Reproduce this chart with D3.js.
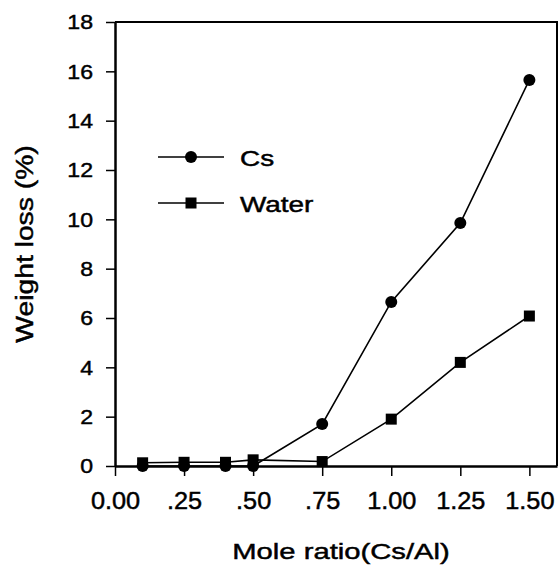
<!DOCTYPE html>
<html>
<head>
<meta charset="utf-8">
<script src="https://cdn.jsdelivr.net/npm/d3@7"></script>
<style>
  html, body { margin: 0; padding: 0; background: #fff; }
  svg { display: block; }
  text { font-family: "Liberation Sans", Arial, sans-serif; fill: #000; stroke: #000; stroke-width: 0.45px; }
</style>
</head>
<body>
<svg id="chart" width="560" height="576"></svg>
<script>
// dane odčítané z obrázka
const moleRatio = [0.1, 0.25, 0.4, 0.5, 0.75, 1.0, 1.25, 1.5];
const csLoss = [0.0, 0.0, 0.0, 0.0, 1.7, 6.65, 9.85, 15.65];
const waterLoss = [0.13, 0.15, 0.15, 0.25, 0.18, 1.9, 4.2, 6.08];

const xTicks = [0, 0.25, 0.5, 0.75, 1.0, 1.25, 1.5];
const xTickLabels = ["0.00", ".25", ".50", ".75", "1.00", "1.25", "1.50"];
const yTicks = [0, 2, 4, 6, 8, 10, 12, 14, 16, 18];

const seriesNames = ["Cs", "Water"];

const svg = d3.select("#chart");

const x = d3.scaleLinear().domain([0, 1.6]).range([115, 557]);
const y = d3.scaleLinear().domain([0, 18]).range([466, 22]);

// text v obrázku je širší než Arial, roztiahneme ho cez scale okolo jeho x
function widen(sel, k) {
  sel.each(function () {
    const t = d3.select(this);
    const x0 = +t.attr("x") || 0;
    t.attr("x", x0 / k).attr("transform", `scale(${k},1)`);
  });
}

// rám grafu (hore a vpravo)
svg.append("path")
  .attr("d", `M${x(0)},${y(18)}H${x(1.6)}V${y(0)}`)
  .attr("fill", "none")
  .attr("stroke", "#000")
  .attr("stroke-width", 2);

const gx = svg.append("g")
  .attr("transform", `translate(0,${y(0)})`)
  .call(d3.axisBottom(x)
    .tickValues(xTicks)
    .tickFormat((d, i) => xTickLabels[i])
    .tickSize(10)
    .tickPadding(17)
    .tickSizeOuter(0));

const gy = svg.append("g")
  .attr("transform", `translate(${x(0)},0)`)
  .call(d3.axisLeft(y)
    .tickValues(yTicks)
    .tickSize(9)
    .tickPadding(13)
    .tickSizeOuter(0));

[gx, gy].forEach(g => {
  g.attr("font-family", null);
  g.select(".domain").attr("stroke-width", 2.5);
  g.selectAll(".tick line").attr("stroke-width", 1.5);
});
gx.selectAll("text").attr("font-size", 23);
gy.selectAll("text").attr("font-size", 21);
widen(gx.selectAll("text"), 1.1);
widen(gy.selectAll("text"), 1.1);

// popisy osí
svg.append("g")
  .attr("transform", "translate(341,559)")
  .append("text")
  .attr("text-anchor", "middle")
  .attr("font-size", 22.5)
  .attr("transform", "scale(1.3,1)")
  .text("Mole ratio(Cs/Al)");

svg.append("g")
  .attr("transform", "translate(33,244) rotate(-90)")
  .append("text")
  .attr("text-anchor", "middle")
  .attr("font-size", 23)
  .attr("transform", "scale(1.23,1)")
  .text("Weight loss (%)");

const line = d3.line()
  .x(d => x(d[0]))
  .y(d => y(d[1]));

const csData = moleRatio.map((m, i) => [m, csLoss[i]]);
const waterData = moleRatio.map((m, i) => [m, waterLoss[i]]);

[csData, waterData].forEach(data => {
  svg.append("path")
    .datum(data)
    .attr("fill", "none")
    .attr("stroke", "#000")
    .attr("stroke-width", 1.6)
    .attr("d", line);
});

svg.append("g")
  .selectAll("rect")
  .data(waterData)
  .join("rect")
  .attr("x", d => x(d[0]) - 5.5)
  .attr("y", d => y(d[1]) - 5.5)
  .attr("width", 11)
  .attr("height", 11)
  .attr("fill", "#000");

svg.append("g")
  .selectAll("circle")
  .data(csData)
  .join("circle")
  .attr("cx", d => x(d[0]))
  .attr("cy", d => y(d[1]))
  .attr("r", 6)
  .attr("fill", "#000");

// legenda
const legend = svg.append("g");
const legendY = [157, 203];
seriesNames.forEach((name, i) => {
  const ly = legendY[i];
  legend.append("line")
    .attr("x1", 158).attr("x2", 224)
    .attr("y1", ly).attr("y2", ly)
    .attr("stroke", "#000")
    .attr("stroke-width", 1.6);
  if (i === 0) {
    legend.append("circle")
      .attr("cx", 191).attr("cy", ly).attr("r", 6)
      .attr("fill", "#000");
  } else {
    legend.append("rect")
      .attr("x", 185.5).attr("y", ly - 5.5)
      .attr("width", 11).attr("height", 11)
      .attr("fill", "#000");
  }
  legend.append("g")
    .attr("transform", `translate(240,${ly + 8.5})`)
    .append("text")
    .attr("font-size", 22)
    .attr("transform", "scale(1.27,1)")
    .text(name);
});
</script>
</body>
</html>
